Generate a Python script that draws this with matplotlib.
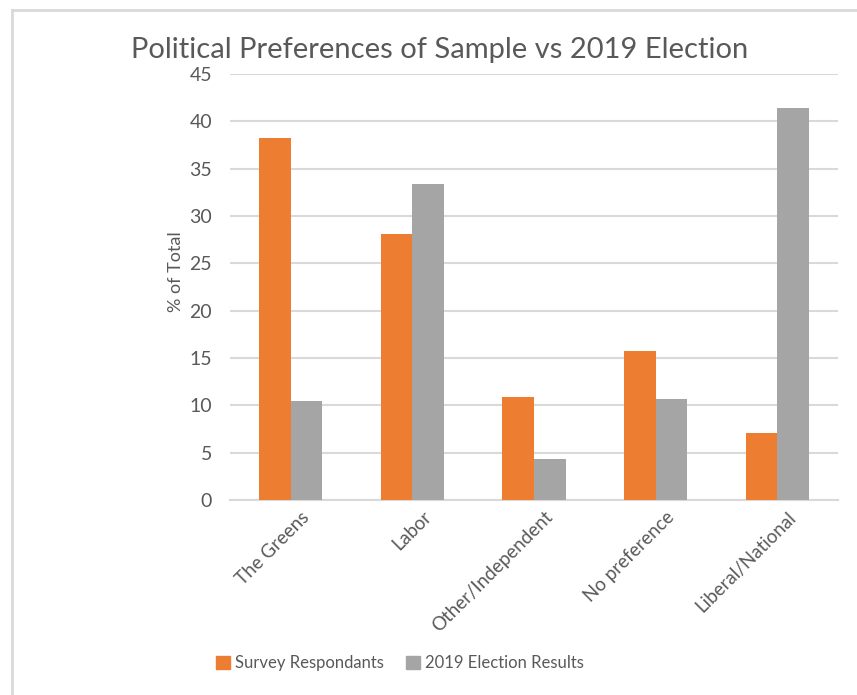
import matplotlib
matplotlib.use("Agg")
import matplotlib.pyplot as plt
from matplotlib.lines import Line2D
from matplotlib.patches import Patch
import numpy as np

categories = ["The Greens", "Labor", "Other/Independent", "No preference", "Liberal/National"]
survey = [38.2, 28.1, 10.9, 15.7, 7.1]
election = [10.5, 33.4, 4.3, 10.7, 41.4]
series_names = ["Survey Respondants", "2019 Election Results"]
yticks = [0, 5, 10, 15, 20, 25, 30, 35, 40, 45]

plt.rcParams['font.family'] = ['Lato', 'DejaVu Sans']
TXT = "#595959"
ORANGE = "#ED7D31"
GRAY = "#A5A5A5"

W, H = 857, 695
fig = plt.figure(figsize=(W / 100, H / 100), dpi=100)
ax = fig.add_axes([230 / W, 1 - 500 / H, (838 - 230) / W, (500 - 74) / H])

x = np.arange(len(categories))
bw = 0.26
ax.bar(x - bw / 2, survey, bw, color=ORANGE, zorder=3)
ax.bar(x + bw / 2, election, bw, color=GRAY, zorder=3)

ax.set_xlim(-0.5, len(categories) - 0.5)
ax.set_ylim(0, 45)
ax.set_yticks(yticks)
ax.set_yticklabels([str(t) for t in yticks], color=TXT, fontsize=14)
ax.yaxis.grid(True, color="#D9D9D9", linewidth=1.5, zorder=0)
ax.tick_params(axis='y', length=0, pad=13)
ax.tick_params(axis='x', length=0, pad=6)
for s in ["top", "right", "left"]:
    ax.spines[s].set_visible(False)
ax.spines["bottom"].set_color("#D9D9D9")
ax.spines["bottom"].set_linewidth(1.5)

ax.set_xticks(x + 0.08)
ax.set_xticklabels(categories, rotation=45, ha='right', rotation_mode='anchor',
                   color=TXT, fontsize=13.5)

ax.set_ylabel("% of Total", color=TXT, fontsize=13)
ax.yaxis.set_label_coords((184 - 230) / 608, (500 - 272) / 426)

fig.text(440 / W, 1 - 50 / H, "Political Preferences of Sample vs 2019 Election",
         ha='center', va='center', fontsize=21, color=TXT)

handles = [Patch(color=ORANGE), Patch(color=GRAY)]
fig.legend(handles, series_names, loc='center', bbox_to_anchor=(400 / W, 1 - 663 / H),
           ncol=2, frameon=False, fontsize=12, labelcolor=TXT, handlelength=0.85,
           handleheight=0.85, handletextpad=0.3, columnspacing=1.3)

# chart border (left and top edges visible)
fig.add_artist(Line2D([12 / W, 12 / W], [0, 1 - 10 / H], color="#D9D9D9", lw=2,
                      transform=fig.transFigure))
fig.add_artist(Line2D([12 / W, 1], [1 - 10 / H, 1 - 10 / H], color="#D9D9D9", lw=2,
                      transform=fig.transFigure))

fig.savefig("out.png", dpi=100, facecolor="white")
